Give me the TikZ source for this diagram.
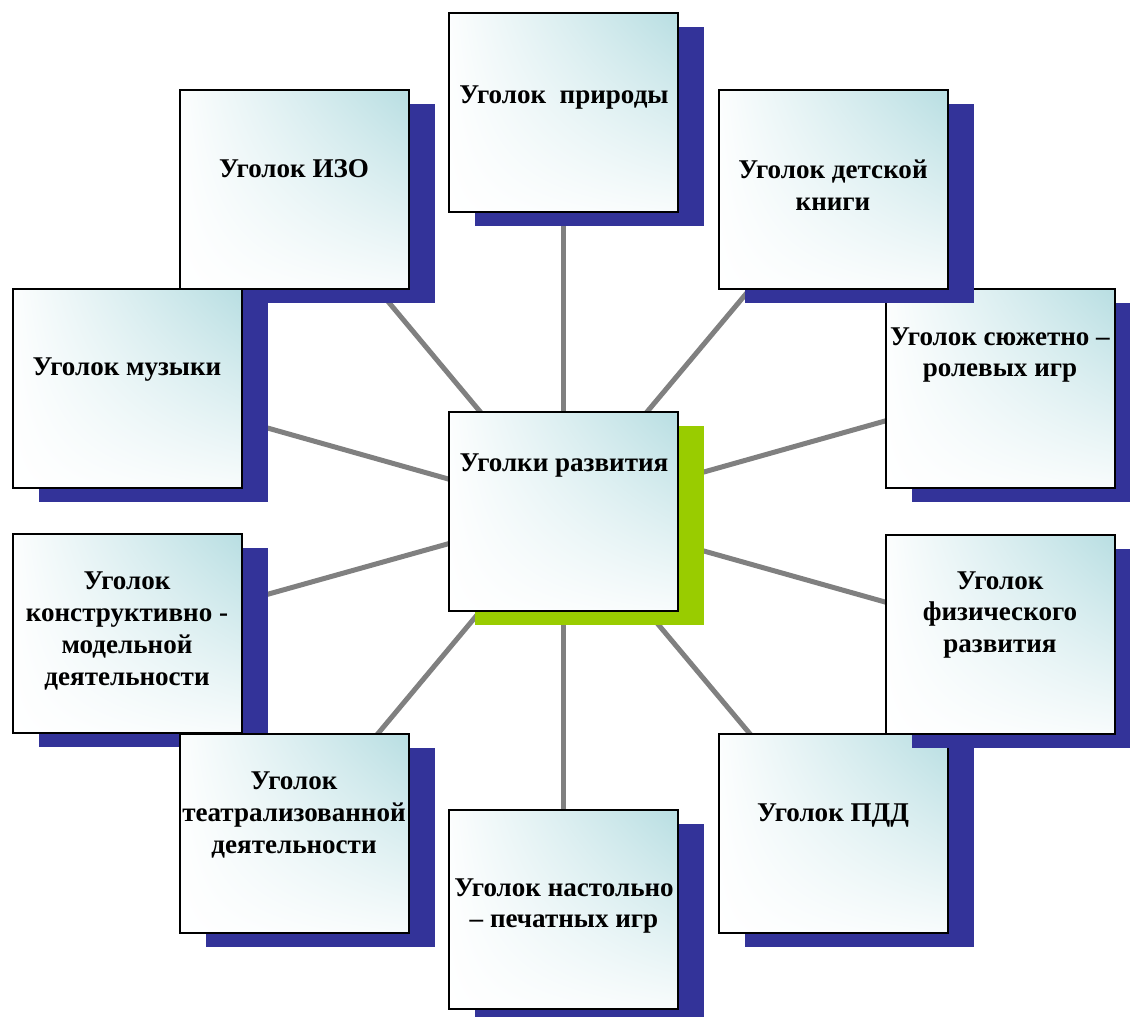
\documentclass[tikz,border=0pt]{standalone}
\usepackage{fontspec}
\setmainfont{Liberation Serif}
\usetikzlibrary{shadings}
\definecolor{shblue}{RGB}{51,51,153}
\definecolor{shgreen}{RGB}{153,204,0}
\definecolor{tealA}{RGB}{184,222,226}
\definecolor{lnk}{RGB}{128,128,128}
\pgfdeclarelayer{bg}
\pgfsetlayers{bg,main}
\tikzset{
  ubox/.style={draw=black, line width=1.6pt, minimum width=229*0.75pt, minimum height=199*0.75pt, inner sep=0pt,
    upper right=tealA, upper left=white!96!tealA, lower left=white, lower right=white!90!tealA},
  utext/.style={font=\bfseries\fontsize{20.3}{23.8}\selectfont, align=center, inner sep=0pt},
  link/.style={draw=lnk, line width=3.75pt},
}
\newcommand\ubx[4]{%
  \fill[#4] (#2+26,#3+14) rectangle ++(229,199);
  \node[ubox] (#1) at (#2+114.5,#3+99.5) {};
}
\begin{document}
\begin{tikzpicture}[x=0.75pt,y=-0.75pt]
\clip (0,0) rectangle (1130,1016);
\ubx{pri}{449}{13}{shblue}
\ubx{syu}{886}{289}{shblue}
\ubx{kni}{719}{90}{shblue}
\ubx{izo}{180}{90}{shblue}
\ubx{muz}{13}{289}{shblue}
\ubx{kon}{13}{534}{shblue}
\ubx{tea}{180}{734}{shblue}
\ubx{pdd}{719}{734}{shblue}
\ubx{fiz}{886}{535}{shblue}
\ubx{nas}{449}{810}{shblue}
\ubx{cen}{449}{412}{shgreen}
\begin{pgfonlayer}{bg}
  \fill[white] (0,0) rectangle (1130,1016);
  \foreach \n in {pri,syu,kni,izo,muz,kon,tea,pdd,fiz,nas}
    \draw[link] (cen.center) -- (\n.center);
\end{pgfonlayer}
\node[utext] (tpri) at (564,98) {Уголок\ \ природы};
\node[utext] (tizo) at (294,169) {Уголок ИЗО};
\node[utext] (tkni) at (833,185) {Уголок детской\\книги};
\node[utext] (tmuz) at (127,370) {Уголок музыки};
\node[utext] (tsyu) at (1000,355) {Уголок сюжетно –\\ролевых игр};
\node[utext] (tcen) at (564,466) {Уголки развития};
\node[utext] (tkon) at (127,631) {Уголок\\конструктивно -\\модельной\\деятельности};
\node[utext] (tfiz) at (1000,615) {Уголок\\физического\\развития};
\node[utext] (ttea) at (294,815) {Уголок\\театрализованной\\деятельности};
\node[utext] (tpdd) at (833,816) {Уголок ПДД};
\node[utext] (tnas) at (564,906) {Уголок настольно\\– печатных игр};
\end{tikzpicture}
\end{document}
